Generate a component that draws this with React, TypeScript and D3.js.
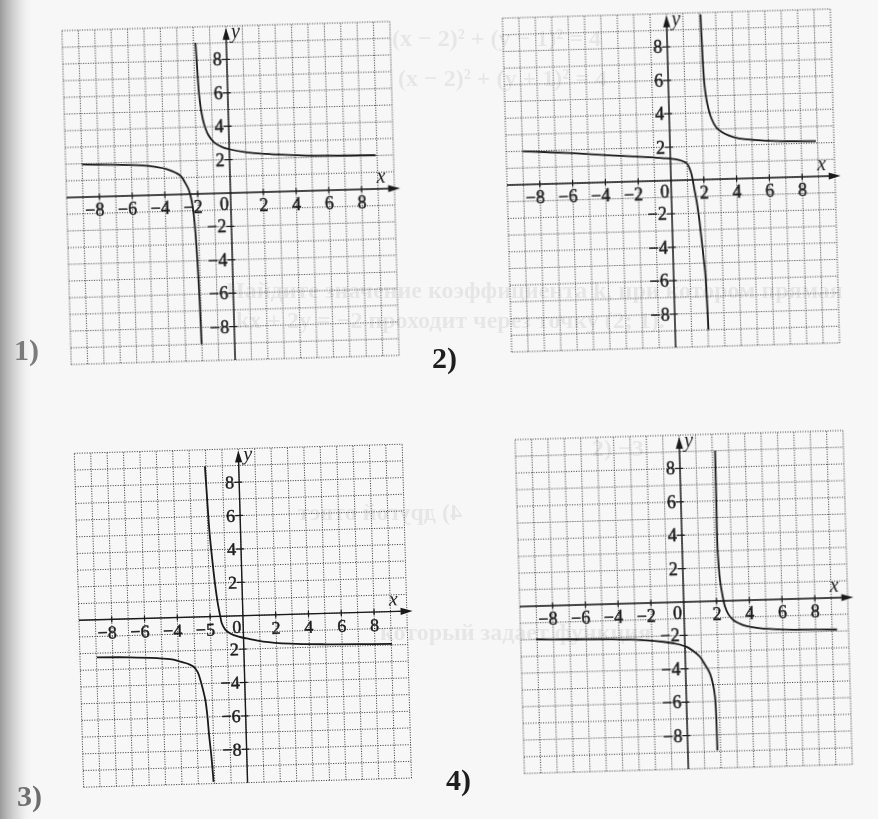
import React from 'react';
import * as d3 from 'd3';

type Pt = [number, number];

// ---- tick values and labels ----
const X_TICKS = [-8, -6, -4, -2, 2, 4, 6, 8];
const Y_TICKS = [8, 6, 4, 2, -2, -4, -6, -8];
const X_LABELS = ['−8', '−6', '−4', '−2', '2', '4', '6', '8'];
const X_LABELS_3 = ['−8', '−6', '−4', '−5', '2', '4', '6', '8'];
const Y_LABELS = ['8', '6', '4', '2', '−2', '−4', '−6', '−8'];
const Y_LABELS_3 = ['8', '6', '4', '2', '2', '−4', '−6', '−8'];
const PANEL_NAMES = ['1)', '2)', '3)', '4)'];

// ---- curve points (x, y) ----
const P1_UPPER: Pt[] = [[-1.88, 9.05], [-1.82, 7.5], [-1.75, 6], [-1.65, 5], [-1.5, 4.2], [-1.25, 3.5], [-0.9, 3.05], [-0.4, 2.75], [0, 2.62], [1, 2.42], [2, 2.3], [3, 2.22], [5, 2.1], [7, 2.05], [8.9, 2.02]];
const P1_LOWER: Pt[] = [[-9, 1.95], [-7, 1.88], [-5.4, 1.8], [-4.5, 1.68], [-3.85, 1.54], [-3.3, 1.3], [-3.0, 1.1], [-2.75, 0.7], [-2.55, 0.3], [-2.4, -0.3], [-2.28, -1.2], [-2.2, -2.4], [-2.12, -4.4], [-2.06, -6.5], [-2.02, -9.0]];
const P2_UPPER: Pt[] = [[2.08, 9.9], [2.12, 8], [2.2, 5.7], [2.35, 4.5], [2.57, 3.65], [2.85, 3.1], [3.16, 2.83], [3.6, 2.6], [4.15, 2.42], [5.2, 2.28], [6.6, 2.18], [8.9, 2.12]];
const P2_LOWER: Pt[] = [[-9, 2.0], [-6, 1.8], [-3.55, 1.6], [-1.5, 1.45], [-0.5, 1.36], [0.5, 1.22], [0.99, 1.0], [1.15, 0.7], [1.27, 0.3], [1.4, -0.5], [1.53, -1.3], [1.65, -2.3], [1.74, -3.3], [1.85, -4.6], [1.93, -5.6], [1.98, -7], [2.03, -9.0]];
const P3_UPPER: Pt[] = [[-2.06, 9.0], [-1.98, 7], [-1.89, 5.0], [-1.78, 3.5], [-1.65, 2.0], [-1.55, 1.1], [-1.48, 0.58], [-1.38, 0.0], [-1.3, -0.42], [-1.1, -0.8], [-0.8, -1.04], [-0.3, -1.25], [0.2, -1.37], [1.2, -1.58], [2.84, -1.75], [5, -1.85], [7, -1.9], [9.04, -1.93]];
const P3_LOWER: Pt[] = [[-8.97, -2.25], [-7, -2.3], [-5.3, -2.4], [-4.4, -2.5], [-3.89, -2.65], [-3.4, -2.8], [-3.09, -2.97], [-2.85, -3.3], [-2.7, -3.78], [-2.55, -4.4], [-2.43, -5.0], [-2.33, -6.0], [-2.27, -7.0], [-2.15, -8.5], [-2.07, -9.9]];
const P4_UPPER: Pt[] = [[2.17, 9.0], [2.16, 6], [2.15, 3.3], [2.2, 2.0], [2.25, 1.25], [2.35, 0.5], [2.51, -0.35], [2.7, -0.8], [3.0, -1.17], [3.4, -1.4], [3.8, -1.55], [4.6, -1.7], [5.8, -1.8], [7.5, -1.86], [9.3, -1.9]];
const P4_LOWER: Pt[] = [[-9.07, -1.99], [-7, -2.05], [-4.35, -2.12], [-2.5, -2.22], [-1.3, -2.35], [-0.5, -2.5], [0.1, -2.69], [0.5, -2.95], [0.9, -3.31], [1.2, -3.8], [1.48, -4.33], [1.65, -5.0], [1.75, -5.74], [1.79, -7.0], [1.8, -8.94]];

// faint text showing through the page
const GHOST_TEXT = [
  '(x − 2)² + (y − 1)² = 4',
  '(x − 2)² + (y + 1)² = 4',
  'Найдите значение коэффициента k, при котором прямая',
  'kx + 2y = −2 проходит через точку (2; 1).',
  '2) −3',
  '4) другой ответ',
  'который задает функция',
];

// ---- layout (page positions) ----
const W = 878;
const H = 819;
const PANELS = [
  { ox: 230.5, oy: 193, upper: P1_UPPER, lower: P1_LOWER, xl: X_LABELS, yl: Y_LABELS, nx: 14, ny: 360, nfill: '#7c7c7c' },
  { ox: 671, oy: 180.5, upper: P2_UPPER, lower: P2_LOWER, xl: X_LABELS, yl: Y_LABELS, nx: 432, ny: 368, nfill: '#1e1e1e' },
  { ox: 242.9, oy: 615.7, upper: P3_UPPER, lower: P3_LOWER, xl: X_LABELS_3, yl: Y_LABELS_3, nx: 17, ny: 806, nfill: '#6e6e6e' },
  { ox: 683.7, oy: 602, upper: P4_UPPER, lower: P4_LOWER, xl: X_LABELS, yl: Y_LABELS, nx: 446, ny: 790, nfill: '#1e1e1e' },
];
const GHOST_POS = [
  { x: 392, y: 46, m: false }, { x: 398, y: 86, m: false }, { x: 226, y: 298, m: false },
  { x: 236, y: 328, m: false }, { x: 592, y: 456, m: false }, { x: 462, y: 520, m: true }, { x: 380, y: 640, m: false },
];

const FONT = '"Liberation Serif", "DejaVu Serif", serif';

function Panel({ ox, oy, upper, lower, xl, yl }: any) {
  const x = d3.scaleLinear().domain([-10, 10]).range([-164, 164]);
  const y = d3.scaleLinear().domain([-10, 10]).range([167, -167]);
  const grid = d3.range(-10, 11);
  const line = d3.line<Pt>().x(d => x(d[0])).y(d => y(d[1])).curve(d3.curveCatmullRom.alpha(0.5));
  const gridStyle = { stroke: '#333', strokeWidth: 0.9, strokeDasharray: '1.1 1.4' };
  const xTip = x(10.35);
  const yTip = y(9.9);
  return (
    <g transform={`translate(${ox},${oy}) rotate(-1.6)`}>
      {grid.map(v => (
        <line key={'gv' + v} x1={x(v)} x2={x(v)} y1={y(-10)} y2={y(10)} {...gridStyle} />
      ))}
      {grid.map(v => (
        <line key={'gh' + v} x1={x(-10)} x2={x(10)} y1={y(v)} y2={y(v)} {...gridStyle} />
      ))}
      {/* axes */}
      <line x1={x(-10)} x2={xTip - 6} y1={y(0)} y2={y(0)} stroke="#1a1a1a" strokeWidth={1.4} />
      <polygon points={`${xTip},${y(0)} ${xTip - 12},${y(0) - 3.6} ${xTip - 12},${y(0) + 3.6}`} fill="#1a1a1a" />
      <line x1={x(0)} x2={x(0)} y1={y(-10)} y2={yTip + 6} stroke="#1a1a1a" strokeWidth={1.4} />
      <polygon points={`${x(0)},${yTip} ${x(0) - 3.6},${yTip + 12} ${x(0) + 3.6},${yTip + 12}`} fill="#1a1a1a" />
      {/* ticks */}
      {X_TICKS.map(v => (
        <line key={'xt' + v} x1={x(v)} x2={x(v)} y1={y(0) - 3} y2={y(0) + 3} stroke="#1a1a1a" strokeWidth={1.2} />
      ))}
      {Y_TICKS.map(v => (
        <line key={'yt' + v} x1={x(0) - 5} x2={x(0) + 3} y1={y(v)} y2={y(v)} stroke="#1a1a1a" strokeWidth={1.2} />
      ))}
      {/* tick labels */}
      <g fontFamily={FONT} fontSize={18} fill="#1c1c1c" stroke="#1c1c1c" strokeWidth={0.45}>
        {X_TICKS.map((v, i) => (
          <text key={'xl' + v} x={x(v) + 4.6} y={y(0) + 19} textAnchor="end">{xl[i]}</text>
        ))}
        <text x={x(0) - 2} y={y(0) + 17} textAnchor="end">0</text>
        {Y_TICKS.map((v, i) => (
          <text key={'yl' + v} x={x(0) - 5} y={y(v) + 6} textAnchor="end">{yl[i]}</text>
        ))}
      </g>
      <text x={x(9.2)} y={y(0) - 6} textAnchor="middle" fontFamily={FONT} fontStyle="italic" fontSize={20} fill="#1c1c1c">x</text>
      <text x={x(0) + 5} y={y(9.3)} fontFamily={FONT} fontStyle="italic" fontSize={20} fill="#1c1c1c">y</text>
      {/* curves */}
      <path d={line(upper) || ''} fill="none" stroke="#1a1a1a" strokeWidth={1.8} />
      <path d={line(lower) || ''} fill="none" stroke="#1a1a1a" strokeWidth={1.8} />
    </g>
  );
}

export default function App() {
  return (
    <svg width={W} height={H} viewBox={`0 0 ${W} ${H}`} style={{ position: 'absolute', left: 0, top: 0, background: '#f7f7f7' }}>
      <defs>
        <linearGradient id="shade" x1="0" x2="1" y1="0" y2="0">
          <stop offset="0" stopColor="#8f8f8f" stopOpacity={0.9} />
          <stop offset="0.5" stopColor="#bdbdbd" stopOpacity={0.5} />
          <stop offset="1" stopColor="#f7f7f7" stopOpacity={0} />
        </linearGradient>
      </defs>
      <rect x={0} y={0} width={W} height={H} fill="#f7f7f7" />
      <rect x={0} y={0} width={34} height={H} fill="url(#shade)" />
      <g fontFamily={FONT} fontWeight="bold" fontSize={24} fill="#000" opacity={0.07}>
        {GHOST_TEXT.map((t, i) => (
          <text key={'gt' + i} x={GHOST_POS[i].x} y={GHOST_POS[i].y}
            transform={GHOST_POS[i].m ? `translate(${2 * GHOST_POS[i].x},0) scale(-1,1)` : undefined}>{t}</text>
        ))}
      </g>
      {PANELS.map((p, i) => (
        <Panel key={i} {...p} />
      ))}
      {PANELS.map((p, i) => (
        <text key={'n' + i} x={p.nx} y={p.ny} fontFamily={FONT} fontWeight="bold" fontSize={30} fill={p.nfill}>{PANEL_NAMES[i]}</text>
      ))}
    </svg>
  );
}
